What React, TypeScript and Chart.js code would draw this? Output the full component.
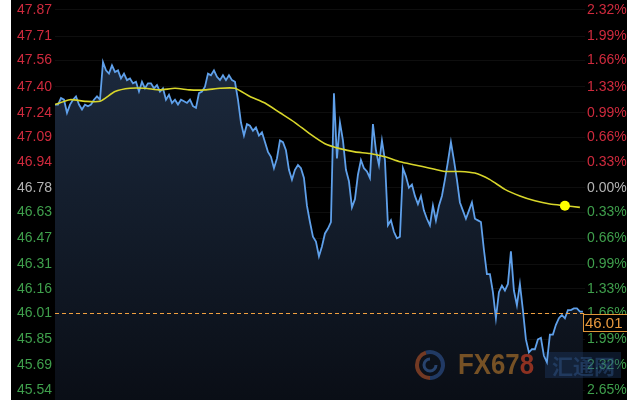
import React, { useEffect, useRef } from 'react';
import { Chart, registerables } from 'chart.js';

Chart.register(...registerables);

// Intraday price (one value per sample, left to right)
const priceValues: number[] = [
  47.29, 47.29, 47.33, 47.32, 47.24, 47.29, 47.32, 47.34, 47.29, 47.26,
  47.29, 47.28, 47.29, 47.32, 47.34, 47.32, 47.55, 47.50, 47.48, 47.53,
  47.49, 47.50, 47.45, 47.48, 47.44, 47.45, 47.42, 47.43, 47.37, 47.43,
  47.39, 47.42, 47.42, 47.39, 47.41, 47.37, 47.39, 47.32, 47.35, 47.30,
  47.32, 47.29, 47.32, 47.31, 47.30, 47.32, 47.28, 47.27, 47.36, 47.37,
  47.40, 47.48, 47.47, 47.50, 47.46, 47.44, 47.47, 47.44, 47.47, 47.44,
  47.43, 47.32, 47.18, 47.10, 47.17, 47.16, 47.13, 47.15, 47.10, 47.12,
  47.06, 47.00, 46.97, 46.90, 46.96, 47.07, 47.06, 47.01, 46.89, 46.83,
  46.89, 46.92, 46.90, 46.84, 46.67, 46.57, 46.48, 46.45, 46.36, 46.42,
  46.50, 46.53, 46.57, 47.36, 46.96, 47.18, 47.07, 46.89, 46.82, 46.66,
  46.71, 46.86, 46.95, 46.90, 46.88, 46.84, 47.17, 47.01, 46.92, 47.07,
  46.95, 46.55, 46.58, 46.51, 46.47, 46.48, 46.90, 46.85, 46.78, 46.80,
  46.73, 46.68, 46.73, 46.64, 46.59, 46.55, 46.67, 46.58, 46.67, 46.73,
  46.83, 46.94, 47.06, 46.95, 46.83, 46.69, 46.64, 46.59, 46.64, 46.69,
  46.59, 46.58, 46.57, 46.40, 46.25, 46.25, 46.14, 45.98, 46.14, 46.18,
  46.15, 46.19, 46.39, 46.15, 46.06, 46.19, 46.03, 45.85, 45.77, 45.79,
  45.79, 45.85, 45.86, 45.75, 45.71, 45.88, 45.88, 45.94, 45.98, 46.00,
  45.98, 46.03, 46.03, 46.04, 46.04, 46.02, 46.02,
];

// Average price line, one value every avgStep samples
const avgStep = 5;
const avgValues: number[] = [
  47.29, 47.32, 47.31, 47.31, 47.37, 47.39, 47.39, 47.38, 47.39, 47.38,
  47.38, 47.39, 47.39, 47.34, 47.30, 47.24, 47.18, 47.11, 47.05, 47.02,
  47.00, 46.99, 46.97, 46.94, 46.92, 46.90, 46.88, 46.88, 46.87, 46.83,
  46.77, 46.73, 46.70, 46.68, 46.67, 46.66,
];
const avgDotIndex = 170;
const avgDotValue = 46.67;

const tickPrices: number[] = [
  47.87, 47.71, 47.56, 47.40, 47.24, 47.09, 46.94, 46.78,
  46.63, 46.47, 46.31, 46.16, 46.01, 45.85, 45.69, 45.54,
];
const tickPercents: string[] = [
  '2.32%', '1.99%', '1.66%', '1.33%', '0.99%', '0.66%', '0.33%', '0.00%',
  '0.33%', '0.66%', '0.99%', '1.33%', '1.66%', '1.99%', '2.32%', '2.65%',
];
const prevClose = 46.78;
const lastPrice = 46.01;

const RED = '#cf2a3d';
const GREEN = '#3f9f4c';
const GRAY = '#b4b4b4';
const FONT = "'Liberation Sans', Arial, sans-serif";

// where the first and last tick labels sit inside the 400px tall chart
const TOP_TICK_Y = 10;
const BOTTOM_TICK_Y = 390;

function tickColor(v: number) {
  if (Math.abs(v - prevClose) < 0.001) return GRAY;
  return v > prevClose ? RED : GREEN;
}

export default function App() {
  const ref = useRef<HTMLCanvasElement>(null);

  useEffect(() => {
    if (!ref.current) return;
    const top = tickPrices[0];
    const bottom = tickPrices[tickPrices.length - 1];
    const step = (top - bottom) / (tickPrices.length - 1);
    const pad = step * 0.395;
    const xMax = priceValues.length - 1 + 0.7;

    const overlay = {
      id: 'overlay',
      beforeDatasetsDraw(chart: any) {
        const { ctx, chartArea } = chart;
        ctx.save();
        // watermark
        const bx = chartArea.right - 155;
        const by = chartArea.bottom - 35;
        ctx.lineWidth = 4;
        ctx.strokeStyle = 'rgba(160,75,40,0.7)';
        ctx.beginPath();
        ctx.arc(bx, by, 13, Math.PI * 0.5, Math.PI * 1.4);
        ctx.stroke();
        ctx.strokeStyle = 'rgba(45,80,140,0.65)';
        ctx.beginPath();
        ctx.arc(bx, by, 13, Math.PI * 1.4, Math.PI * 2.5);
        ctx.stroke();
        ctx.lineWidth = 3;
        ctx.strokeStyle = 'rgba(55,95,155,0.65)';
        ctx.beginPath();
        ctx.arc(bx, by, 6, 0, Math.PI * 1.5);
        ctx.stroke();
        ctx.save();
        ctx.translate(bx + 28, by + 1);
        ctx.scale(0.86, 1);
        ctx.font = `bold 30px ${FONT}`;
        ctx.textBaseline = 'middle';
        ctx.textAlign = 'left';
        ctx.fillStyle = 'rgba(145,98,40,0.8)';
        const t1 = 'FX67';
        ctx.fillText(t1, 0, 0);
        const w1 = ctx.measureText(t1).width;
        ctx.fillStyle = 'rgba(165,55,35,0.85)';
        ctx.fillText('8', w1, 0);
        ctx.restore();
        ctx.fillStyle = 'rgba(35,65,115,0.35)';
        ctx.fillRect(bx + 115, by - 13, 76, 26);
        ctx.font = `bold 21px 'Noto Sans CJK SC', sans-serif`;
        ctx.textBaseline = 'middle';
        ctx.textAlign = 'left';
        ctx.fillStyle = 'rgba(60,105,170,0.35)';
        ctx.fillText('汇通网', bx + 122, by + 1);
        ctx.restore();
      },
      afterDraw(chart: any) {
        const { ctx, chartArea, scales } = chart;
        const y = Math.round(scales.y.getPixelForValue(lastPrice)) + 0.5;
        ctx.save();
        ctx.strokeStyle = '#f0a040';
        ctx.lineWidth = 1;
        ctx.setLineDash([4, 3]);
        ctx.beginPath();
        ctx.moveTo(chartArea.left, y);
        ctx.lineTo(chartArea.right, y);
        ctx.stroke();
        ctx.setLineDash([]);
        const bx = Math.round(chartArea.right - 2) + 0.5;
        ctx.fillStyle = '#000';
        ctx.fillRect(bx, y + 1, 46, 17);
        ctx.strokeStyle = '#e0963a';
        ctx.strokeRect(bx, y + 1, 46, 17);
        ctx.font = `15px ${FONT}`;
        ctx.fillStyle = '#e8993e';
        ctx.textBaseline = 'middle';
        ctx.textAlign = 'left';
        ctx.fillText(lastPrice.toFixed(2), bx + 1.5, y + 10);
        ctx.restore();
      },
    };

    const yAxisBase = (width: number, pos: 'left' | 'right') => ({
      position: pos,
      min: bottom - pad,
      max: top + pad,
      afterBuildTicks: (s: any) => {
        s.ticks = tickPrices.slice().reverse().map((v) => ({ value: v }));
      },
      afterFit: (s: any) => {
        s.width = width;
        s.paddingTop = 0;
        s.paddingBottom = 0;
      },
      border: { display: false },
    });

    const chart = new Chart(ref.current, {
      type: 'line',
      data: {
        datasets: [
          {
            label: 'avgDot',
            data: [{ x: avgDotIndex, y: avgDotValue }],
            showLine: false,
            pointRadius: 5,
            pointBackgroundColor: '#ffff00',
            pointBorderWidth: 0,
            order: 0,
          },
          {
            label: 'avg',
            data: avgValues.map((v, i) => ({ x: i * avgStep, y: v })),
            borderColor: '#d8d62a',
            borderWidth: 1.6,
            pointRadius: 0,
            fill: false,
            tension: 0.2,
            order: 1,
          },
          {
            label: 'price',
            data: priceValues.map((v, i) => ({ x: i, y: v })),
            borderColor: '#5fa0ea',
            borderWidth: 1.8,
            pointRadius: 0,
            tension: 0,
            fill: 'start',
            backgroundColor: (c: any) => {
              const { chart: ch } = c;
              const area = ch.chartArea;
              if (!area) return 'rgba(25,40,60,1)';
              const g = ch.ctx.createLinearGradient(0, area.top, 0, area.bottom);
              g.addColorStop(0, '#1f2e44');
              g.addColorStop(0.5, '#141e2d');
              g.addColorStop(1, '#0a0e16');
              return g;
            },
            order: 2,
          },
        ],
      },
      options: {
        animation: false,
        responsive: true,
        maintainAspectRatio: false,
        layout: { padding: 0, autoPadding: false },
        plugins: {
          legend: { display: false },
          tooltip: { enabled: false },
          filler: { drawTime: 'beforeDatasetsDraw' },
        },
        scales: {
          x: {
            type: 'linear',
            min: 0,
            max: xMax,
            display: false,
          },
          y: {
            ...yAxisBase(44, 'left'),
            grid: { color: 'rgba(255,255,255,0.055)', drawTicks: false },
            ticks: {
              padding: 3,
              font: { family: FONT, size: 14 },
              color: (c: any) => tickColor(c.tick.value),
              callback: (v: any) => Number(v).toFixed(2),
            },
          },
          y2: {
            ...yAxisBase(42, 'right'),
            grid: { display: false, drawTicks: false },
            ticks: {
              padding: 2,
              font: { family: FONT, size: 14 },
              color: (c: any) => tickColor(c.tick.value),
              callback: (v: any) => {
                const idx = tickPrices.findIndex((p) => Math.abs(p - Number(v)) < 0.001);
                return idx >= 0 ? tickPercents[idx] : '';
              },
            },
          },
        },
      },
      plugins: [overlay],
    } as any);

    // Re-fit value range so the outer tick labels land where they do in the reference
    const area = chart.chartArea;
    if (area) {
      const k = (BOTTOM_TICK_Y - TOP_TICK_Y) / (top - bottom);
      const yMax = top + (TOP_TICK_Y - area.top) / k;
      const yMin = bottom - (area.bottom - BOTTOM_TICK_Y) / k;
      const sc: any = chart.options.scales;
      sc.y.min = yMin;
      sc.y.max = yMax;
      sc.y2.min = yMin;
      sc.y2.max = yMax;
      chart.update();
    }

    return () => chart.destroy();
  }, []);

  return (
    <div
      style={{
        position: 'fixed',
        left: 11,
        top: 0,
        width: 616,
        height: 400,
        background: '#000',
      }}
    >
      <canvas ref={ref} />
    </div>
  );
}
